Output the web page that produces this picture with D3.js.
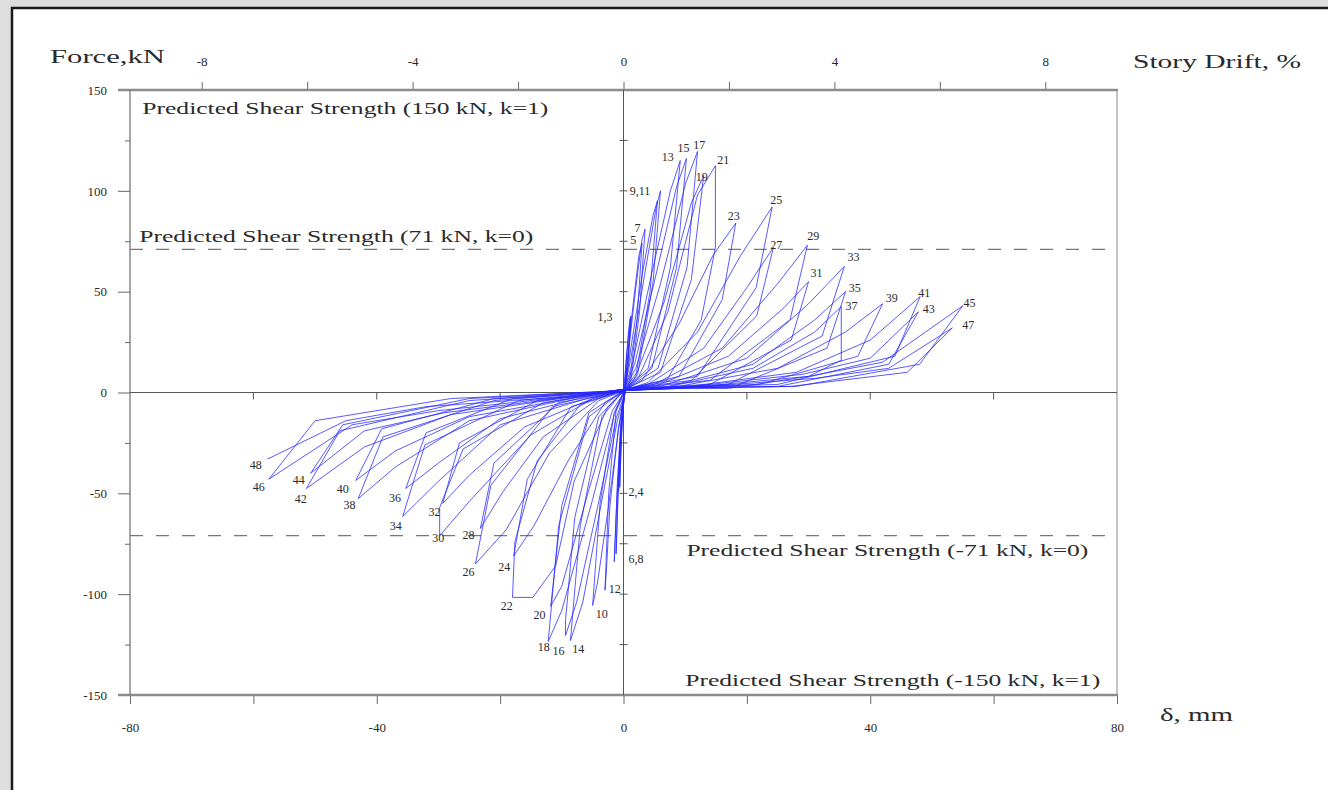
<!DOCTYPE html>
<html>
<head>
<meta charset="utf-8">
<script src="https://cdn.jsdelivr.net/npm/d3@7"></script>
<style>
  html, body { margin: 0; padding: 0; background: #dedede; }
  svg { display: block; }
  text { font-family: "Liberation Serif", "DejaVu Serif", serif; fill: #2a2a2a; }
</style>
</head>
<body>
<svg id="chart" width="1328" height="790"></svg>
<script>
// ---------------- DATA ----------------
const forceTicks = [-150, -100, -50, 0, 50, 100, 150];
const forceMinorTicks = [-125, -75, -25, 25, 75, 125];
const dispTicks = [-80, -40, 0, 40, 80];
const dispMinorTicks = [-60, -20, 20, 60];
const driftTicks = [-8, -4, 0, 4, 8];
const driftMinorTicks = [-6, -2, 2, 6];
const centerAxisTicks = [-125, -100, -75, -50, -25, 25, 50, 75, 100, 125];
const zeroLineTicks = [-60, -40, -20, 20, 40, 60];
const dispDomain = [-80, 80];
const forceDomain = [-150, 150];
const driftDomain = [-9.36, 9.36];
const shearDashed = [71, -71];

const shearTexts = [
  { text: "Predicted Shear Strength (150 kN, k=1)", d: -78.0, f: 138.3, len: 406, size: 16 },
  { text: "Predicted Shear Strength (71 kN, k=0)", d: -78.5, f: 74.5, len: 394, size: 17 },
  { text: "Predicted Shear Strength (-71 kN, k=0)", d: 10.2, f: -81.3, len: 402, size: 16 },
  { text: "Predicted Shear Strength (-150 kN, k=1)", d: 10.0, f: -145.3, len: 415, size: 16 }
];

// hysteresis half-cycles: [cycle number, [[displacement mm, force kN], ...]]
const loops = [
  [1, [[0,0],[0.4,15],[0.8,30],[1.1,37],[0.7,16],[0.2,2]]],
  [2, [[-0.2,-14],[-0.5,-35],[-0.6,-47],[-0.3,-20],[0.1,-2]]],
  [3, [[0.4,14],[0.9,31],[1.2,38],[0.8,15],[0.2,1]]],
  [4, [[-0.3,-16],[-0.6,-37],[-0.8,-49],[-0.4,-20],[0.1,-2]]],
  [5, [[0.6,16],[1.6,45],[2.5,68],[3.0,74],[2.2,36],[1.0,6],[0.2,0]]],
  [6, [[-0.4,-16],[-0.9,-50],[-1.2,-80],[-0.8,-44],[-0.2,-8],[0.2,0]]],
  [7, [[0.8,20],[2.0,52],[3.0,76],[3.5,81],[2.6,40],[1.2,6],[0.2,0]]],
  [8, [[-0.5,-20],[-1.1,-55],[-1.5,-84],[-1.0,-45],[-0.3,-8],[0.2,1]]],
  [9, [[1.0,18],[3.0,58],[4.8,88],[5.5,95],[4.3,50],[2.0,8],[0.3,1]]],
  [10, [[-0.8,-18],[-2.5,-58],[-4.2,-94],[-5.0,-105.6],[-3.8,-55],[-1.5,-10],[0.1,1]]],
  [11, [[1.2,17],[3.4,58],[5.3,92],[6.0,100],[4.8,55],[2.3,9],[0.3,1]]],
  [12, [[-0.8,-17],[-2.2,-56],[-2.8,-90],[-3.0,-98],[-2.4,-50],[-1.2,-9],[0.1,1]]],
  [13, [[1.5,15],[4.5,58],[7.6,100],[9.2,115],[7.6,62],[4.0,12],[0.5,2]]],
  [14, [[-1.0,-14],[-3.6,-55],[-6.6,-104],[-8.6,-123],[-7.0,-66],[-3.5,-12],[0,1]]],
  [15, [[1.8,14],[5.0,55],[8.6,102],[10.2,116],[8.6,62],[4.6,12],[0.5,2]]],
  [16, [[-1.2,-13],[-4.0,-54],[-7.6,-104],[-9.4,-120.5],[-9.4,-113],[-7.9,-62],[-4.0,-12],[0,1]]],
  [17, [[2.0,12],[6.0,54],[10.1,104],[12.0,119.5],[10.3,62],[5.6,12],[0.5,2]]],
  [18, [[-1.5,-11],[-5.0,-53],[-10.0,-108],[-12.2,-123.5],[-10.5,-66],[-5.6,-12],[0,1]]],
  [19, [[2.2,10],[6.6,45],[11.0,94],[13.0,107.6],[11.0,56],[6.0,10],[0.5,2]]],
  [20, [[-1.8,-9],[-5.6,-48],[-10.0,-96],[-11.8,-106],[-10.0,-56],[-5.6,-10],[0,1]]],
  [21, [[2.5,8],[7.2,40],[12.0,98],[14.9,112.5],[14.9,72],[12.6,36],[7.0,6],[0.5,2]]],
  [22, [[-2.5,-7],[-8.0,-44],[-11.0,-86],[-14.7,-101.6],[-18.0,-101.6],[-17.6,-74],[-14.0,-34],[-7.0,-6],[0,1]]],
  [23, [[3,6],[9,34],[14.5,68],[18.2,84],[16,46],[9,8],[1,2]]],
  [24, [[-3,-5],[-9,-34],[-14.5,-66],[-17.8,-81],[-15.6,-43],[-8.5,-7],[0,1]]],
  [25, [[4,5],[12,30],[19,68],[24.1,92],[21.5,52],[12,8],[1,2]]],
  [26, [[-4,-4],[-12,-30],[-19,-68],[-24,-85],[-21.5,-46],[-11.5,-7],[0,1]]],
  [27, [[4,4],[13,22],[20,52],[24.3,72],[21.6,38],[11,6],[1,2]]],
  [28, [[-4,-3],[-13,-22],[-19.5,-49],[-23.2,-67.4],[-21,-35],[-10.5,-5],[0,1]]],
  [29, [[5,4],[16,22],[25,54],[29.8,73],[27,36],[14,6],[1,2]]],
  [30, [[-5,-3],[-15,-21],[-25,-54],[-29.8,-71],[-29.8,-57],[-26,-28],[-13,-5],[0,1]]],
  [31, [[5,3],[17,18],[26,42],[30,55],[27.2,26],[14,4],[1,2]]],
  [32, [[-5,-3],[-16,-17],[-25,-41],[-29.3,-55],[-26.6,-25],[-14,-4],[0,1]]],
  [33, [[6,3],[20,17],[30,44],[35.8,62.5],[32.2,28],[17,4],[1,2]]],
  [34, [[-6,-3],[-20,-16],[-30,-44],[-35.8,-61.5],[-32.2,-26],[-17,-4],[0,1]]],
  [35, [[6,2],[21,14],[31,36],[36,50],[33,22],[18,3],[1,2]]],
  [36, [[-6,-2],[-20,-13],[-30,-35],[-35.3,-47.6],[-32,-20],[-18,-3],[0,1]]],
  [37, [[6,2],[21,12],[31,30],[35.3,42.6],[35.3,16],[30,8],[17,2],[1,2]]],
  [38, [[-7,-2],[-25,-14],[-37,-37],[-43,-52.6],[-39,-22],[-21,-4],[0,1]]],
  [39, [[7,2],[25,12],[36,30],[42,44],[38,18],[22,4],[1,2]]],
  [40, [[-7,-2],[-25,-12],[-37,-29],[-43.4,-43.6],[-39.2,-18],[-21,-3],[0,1]]],
  [41, [[8,2],[28,10],[40,26],[48.1,47.6],[44,18],[25,4],[1,2]]],
  [42, [[-8,-2],[-28,-11],[-42,-27],[-51.4,-47.6],[-46,-19],[-25,-4],[0,1]]],
  [43, [[8,2],[29,9],[40,17],[47.8,40],[43,14],[25,3],[1,2]]],
  [44, [[-8,-2],[-29,-10],[-42,-19],[-50.7,-40],[-45.5,-16],[-25,-3],[0,1]]],
  [45, [[9,2],[30,8],[42,15],[55,43],[48,14],[28,3],[1,2]]],
  [46, [[-9,-2],[-30,-9],[-44,-16],[-57.5,-43],[-50,-14],[-28,-3],[0,1]]],
  [47, [[9,2],[31,7],[43,12],[53.3,32],[46,10],[27,3],[1,2]]],
  [48, [[-9,-2],[-32,-7],[-45,-14],[-57.7,-33]]]
];

// cycle labels: [text, displacement, force] (text start / baseline)
const peakLabels = [
  ["1,3",-4.2,35.7],["5",1.1,73.4],["7",1.8,79.8],["9,11",1.0,97.7],["13",6.2,115],
  ["15",8.75,119.5],["17",11.3,120.5],["19",11.7,105],["21",15.2,113.5],["23",16.9,85.3],
  ["25",23.8,93.7],["27",23.8,71.4],["29",29.8,75.4],["31",30.3,57.5],["33",36.3,65],
  ["35",36.5,50],["37",36,40.7],["39",42.5,45],["41",47.8,47.6],["43",48.5,39.2],
  ["45",55.1,42.6],["47",54.9,31.7],
  ["2,4",0.8,-51.1],["6,8",0.8,-84.3],["10",-4.5,-112],["12",-2.4,-99.2],["14",-8.3,-129],
  ["16",-11.5,-130.4],["18",-13.9,-128],["20",-14.6,-112.5],["22",-19.9,-108],["24",-20.3,-88.3],
  ["26",-26.1,-91.2],["28",-26.1,-72.4],["30",-31,-73.9],["32",-31.6,-61],["34",-37.9,-68],
  ["36",-38,-54.5],["38",-45.4,-58],["40",-46.5,-50],["42",-53.3,-55],["44",-53.6,-45.6],
  ["46",-60.1,-48.6],["48",-60.6,-37.7]
];

// ---------------- DRAW ----------------
const svg = d3.select("#chart");
const plot = { left: 130, right: 1117, top: 90, bottom: 695 };

const x = d3.scaleLinear().domain(dispDomain).range([plot.left, plot.right]);
const y = d3.scaleLinear().domain(forceDomain).range([plot.bottom, plot.top]);
const xDrift = d3.scaleLinear().domain(driftDomain).range([plot.left, plot.right]);

// card
svg.append("rect").attr("x", 12).attr("y", 8).attr("width", 1330).attr("height", 800)
  .attr("fill", "#ffffff").attr("stroke", "#1a1a1a").attr("stroke-width", 2.5);

const fmt = d => String(d);
const tickFont = 13;

function styleAxis(g) {
  g.select(".domain").remove();
  g.selectAll(".tick line").attr("stroke", "#666");
  g.selectAll("text").attr("font-size", tickFont).attr("font-family", "Liberation Serif").attr("fill", "#3a3a3a");
}

// left axis
svg.append("g").attr("transform", `translate(${plot.left},0)`)
  .call(d3.axisLeft(y).tickValues(forceTicks).tickSize(12).tickPadding(11).tickFormat(fmt)).call(styleAxis);
svg.append("g").attr("transform", `translate(${plot.left},0)`)
  .call(d3.axisLeft(y).tickValues(forceMinorTicks).tickSize(5).tickFormat("")).call(styleAxis);

// bottom axis
svg.append("g").attr("transform", `translate(0,${plot.bottom})`)
  .call(d3.axisBottom(x).tickValues(dispTicks).tickSize(9).tickPadding(19).tickFormat(fmt)).call(styleAxis);
svg.append("g").attr("transform", `translate(0,${plot.bottom})`)
  .call(d3.axisBottom(x).tickValues(dispMinorTicks).tickSize(9).tickFormat("")).call(styleAxis);

// top drift axis
svg.append("g").attr("transform", `translate(0,${plot.top})`)
  .call(d3.axisTop(xDrift).tickValues(driftTicks).tickSize(8).tickPadding(16).tickFormat(fmt)).call(styleAxis);
svg.append("g").attr("transform", `translate(0,${plot.top})`)
  .call(d3.axisTop(xDrift).tickValues(driftMinorTicks).tickSize(8).tickFormat("")).call(styleAxis);

// frame
svg.append("line").attr("x1", plot.left - 12).attr("x2", plot.right + 1).attr("y1", y(150)).attr("y2", y(150))
  .attr("stroke", "#8c8c8c").attr("stroke-width", 2.5);
svg.append("line").attr("x1", plot.left - 12).attr("x2", plot.right + 1).attr("y1", y(-150)).attr("y2", y(-150))
  .attr("stroke", "#8c8c8c").attr("stroke-width", 2.5);
svg.append("line").attr("x1", plot.left).attr("x2", plot.left).attr("y1", y(150)).attr("y2", y(-150))
  .attr("stroke", "#777").attr("stroke-width", 1.3);
svg.append("line").attr("x1", plot.right).attr("x2", plot.right).attr("y1", y(150)).attr("y2", y(-150))
  .attr("stroke", "#888").attr("stroke-width", 1);

// zero lines
svg.append("line").attr("x1", plot.left).attr("x2", plot.right).attr("y1", y(0)).attr("y2", y(0))
  .attr("stroke", "#555").attr("stroke-width", 1);
svg.append("line").attr("x1", x(0)).attr("x2", x(0)).attr("y1", y(150)).attr("y2", y(-150))
  .attr("stroke", "#555").attr("stroke-width", 1);
svg.append("g").selectAll("line").data(zeroLineTicks).join("line")
  .attr("x1", d => x(d)).attr("x2", d => x(d)).attr("y1", y(0)).attr("y2", y(0) + 7)
  .attr("stroke", "#555");
svg.append("g").selectAll("line").data(centerAxisTicks).join("line")
  .attr("x1", x(0) - 4).attr("x2", x(0) + 4).attr("y1", d => y(d)).attr("y2", d => y(d))
  .attr("stroke", "#555");

// dashed shear lines
svg.append("g").selectAll("line").data(shearDashed).join("line")
  .attr("x1", plot.left).attr("x2", plot.right).attr("y1", d => y(d)).attr("y2", d => y(d))
  .attr("stroke", "#777").attr("stroke-width", 1.3).attr("stroke-dasharray", "13,13");

// shear texts
svg.append("g").selectAll("text").data(shearTexts).join("text")
  .attr("x", d => x(d.d)).attr("y", d => y(d.f))
  .attr("font-size", d => d.size).attr("textLength", d => d.len)
  .attr("lengthAdjust", "spacingAndGlyphs").attr("fill", "#222")
  .text(d => d.text);

// hysteresis
const allPts = loops.flatMap(l => l[1]);
const line = d3.line().x(d => x(d[0])).y(d => y(d[1]));
svg.append("path").datum(allPts).attr("d", line)
  .attr("fill", "none").attr("stroke", "#2626ff").attr("stroke-width", 0.9)
  .attr("stroke-opacity", 0.85).attr("stroke-linejoin", "round");

// cycle labels
svg.append("g").selectAll("text").data(peakLabels).join("text")
  .attr("x", d => x(d[1])).attr("y", d => y(d[2]))
  .attr("font-size", 12).attr("fill", "#3a3a3a")
  .text(d => d[0]);

// axis titles
svg.append("text").attr("x", 50).attr("y", 63).attr("font-size", 18)
  .attr("textLength", 115).attr("lengthAdjust", "spacingAndGlyphs").text("Force,kN");
svg.append("text").attr("x", 1133).attr("y", 68).attr("font-size", 18)
  .attr("textLength", 168).attr("lengthAdjust", "spacingAndGlyphs").text("Story Drift, %");
svg.append("text").attr("x", 1160).attr("y", 721).attr("font-size", 18)
  .attr("textLength", 73).attr("lengthAdjust", "spacingAndGlyphs").text("δ, mm");
</script>
</body>
</html>
